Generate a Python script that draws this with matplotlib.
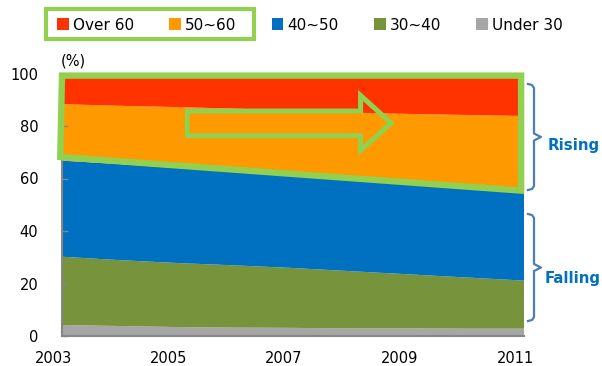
import matplotlib
matplotlib.use("Agg")
import matplotlib.pyplot as plt
import matplotlib.transforms as mtransforms
from matplotlib.patches import Polygon, Rectangle
from matplotlib.lines import Line2D
import numpy as np

# Share of workers by age group (%), 2003-2011
years = [2003, 2004, 2005, 2006, 2007, 2008, 2009, 2010, 2011]
under_30 = [4.2, 3.8, 3.4, 3.2, 3.1, 2.9, 2.9, 2.8, 2.8]
age_30_40 = [26.0, 25.1, 24.4, 23.7, 22.8, 21.8, 20.6, 19.5, 18.3]
age_40_50 = [36.6, 36.6, 36.2, 35.9, 35.1, 34.6, 34.2, 34.0, 33.7]
age_50_60 = [21.5, 22.2, 23.2, 23.8, 24.9, 25.8, 26.9, 27.9, 29.0]
over_60 = [11.7, 12.3, 12.8, 13.4, 14.1, 14.9, 15.4, 15.8, 16.2]

series_labels = ["Under 30", "30~40", "40~50", "50~60", "Over 60"]
series_colors = ["#A6A6A6", "#77933C", "#0070C0", "#FF9900", "#FF3300"]
tick_years = [2003, 2005, 2007, 2009, 2011]
y_ticks = [0, 20, 40, 60, 80, 100]

plt.rcParams["font.family"] = ["DejaVu Sans"]

W, H = 602, 366
fig = plt.figure(figsize=(W / 100, H / 100), dpi=100)
fig.patch.set_facecolor("white")


def fx(x):
    return x / W


def fy(y):
    return 1 - y / H


ax = fig.add_axes([fx(62), fy(336), fx(524) - fx(62), fy(73.5) - fy(336)])
polys = ax.stackplot(years, under_30, age_30_40, age_40_50, age_50_60, over_60,
                     colors=series_colors, labels=series_labels, linewidth=0)
ax.set_xlim(years[0], years[-1])
ax.set_ylim(0, 100)

axis_grey = "#868686"
for side in ("top", "right"):
    ax.spines[side].set_visible(False)
for side in ("left", "bottom"):
    ax.spines[side].set_color(axis_grey)
    ax.spines[side].set_linewidth(1.5)
    ax.spines[side].set_zorder(5)

ax.set_yticks(y_ticks)
ax.tick_params(axis="y", direction="in", length=4.3, width=1, color=axis_grey,
               labelsize=10.5, pad=17)
ax.set_xticks(tick_years)
ax.set_xticklabels([str(y) for y in tick_years])
ax.tick_params(axis="x", which="major", length=0, labelsize=10.5, pad=11)
ax.set_xticks([2007], minor=True)
ax.tick_params(axis="x", which="minor", direction="in", length=4, width=1,
               color=axis_grey)
shift = mtransforms.ScaledTranslation(-9 / 100, 0, fig.dpi_scale_trans)
for lab in ax.get_xticklabels():
    lab.set_transform(lab.get_transform() + shift)

fig.text(fx(61), fy(61), "(%)", ha="left", va="center", fontsize=10.5)

# Legend, oldest group first
leg = fig.legend(handles=polys[::-1], labels=series_labels[::-1],
                 loc="center left", bbox_to_anchor=(fx(57), fy(25)),
                 ncol=5, frameon=False, fontsize=11,
                 handlelength=0.78, handleheight=0.78, handletextpad=0.26,
                 columnspacing=2.3, borderpad=0, borderaxespad=0)

hl_green = "#92D050"
fig.add_artist(Rectangle((fx(46), fy(38.7)), fx(254) - fx(46), fy(9.3) - fy(38.7),
                         transform=fig.transFigure, fill=False,
                         edgecolor=hl_green, linewidth=3))

# Outline around the two older groups
cum_40_50 = np.array(under_30) + np.array(age_30_40) + np.array(age_40_50)
outline = Polygon([(years[0], 99.2), (years[-1] - 0.05, 99.2),
                   (years[-1] - 0.05, cum_40_50[-1] + 0.6),
                   (years[0] - 0.03, cum_40_50[0] + 1.4)],
                  closed=True, fill=False, edgecolor=hl_green, linewidth=4.6,
                  joinstyle="miter", clip_on=False, zorder=6)
ax.add_patch(outline)

# Hollow arrow inside the rising band
arrow = Polygon([(2005.17, 85.7), (2008.17, 85.7), (2008.17, 91.6),
                 (2008.70, 81.1), (2008.17, 70.7), (2008.17, 76.3),
                 (2005.17, 76.3)],
                closed=True, fill=False, edgecolor=hl_green, linewidth=3.6,
                joinstyle="miter", zorder=6)
ax.add_patch(arrow)

# Curly brackets on the right
brace_color = "#4A7EBB"


def brace(top, bottom):
    mid = (top + bottom) / 2
    xs = [528, 532, 534, 534, 541, 534, 534, 532, 528]
    ys = [top, top + 1, top + 4, mid - 3.5, mid, mid + 3.5, bottom - 4, bottom - 1, bottom]
    fig.add_artist(Line2D([fx(x) for x in xs], [fy(y) for y in ys],
                          transform=fig.transFigure, color=brace_color,
                          linewidth=1.6, solid_joinstyle="round"))


brace(84, 190)
brace(214, 321)
fig.text(fx(548), fy(145.5), "Rising", ha="left", va="center", fontsize=10.8,
         fontweight="bold", color="#0070C0")
fig.text(fx(545), fy(278.5), "Falling", ha="left", va="center", fontsize=10.8,
         fontweight="bold", color="#0070C0")

fig.savefig("out.png", dpi=100, facecolor="white")
